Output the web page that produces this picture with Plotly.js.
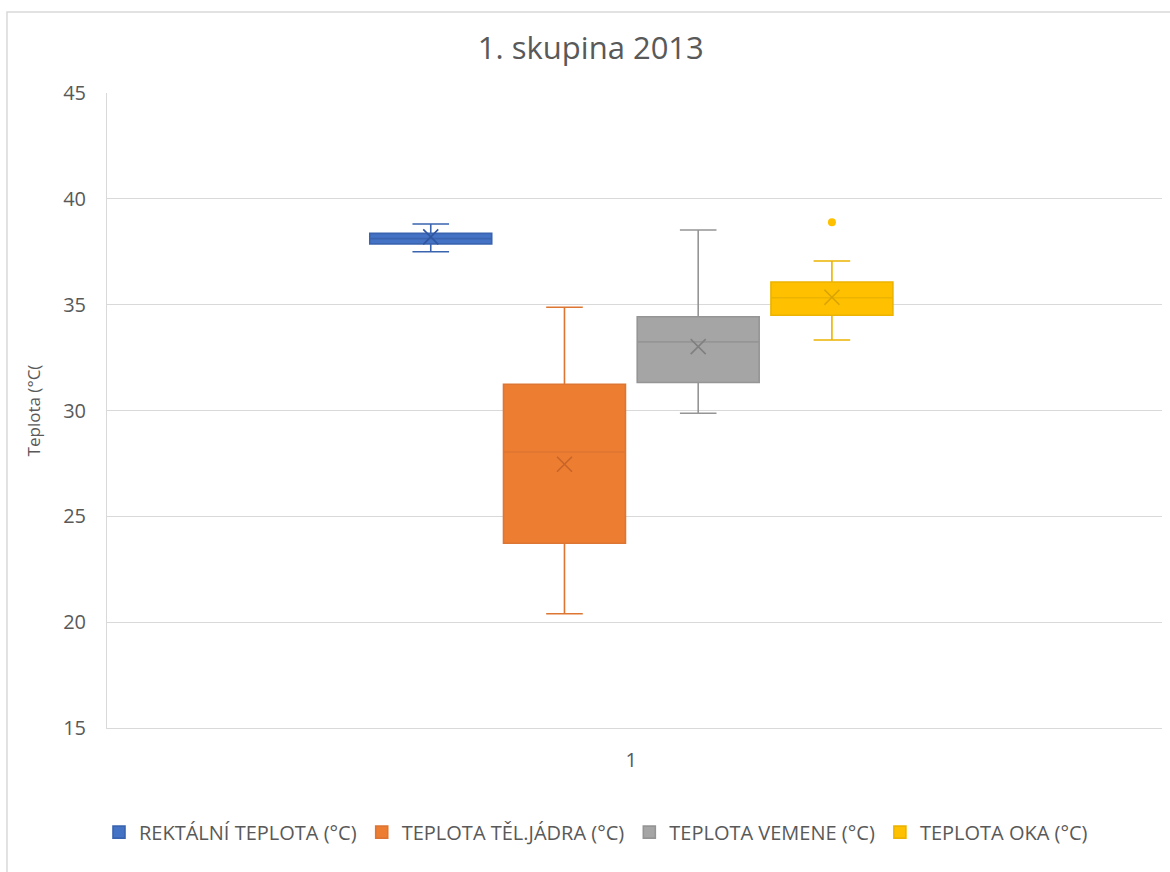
<!DOCTYPE html>
<html>
<head>
<meta charset="utf-8">
<script src="https://cdn.plot.ly/plotly-3.0.1.min.js"></script>
<style>html,body{margin:0;padding:0;background:#fff;}#chart{width:1170px;height:872px;}</style>
</head>
<body>
<div id="chart"></div>
<script>
var category = ['1'];
var seriesNames = ['REKTÁLNÍ TEPLOTA (°C)', 'TEPLOTA TĚL.JÁDRA (°C)', 'TEPLOTA VEMENE (°C)', 'TEPLOTA OKA (°C)'];
var lowerWhisker = [37.5, 20.4, 29.87, 33.33];
var q1Values = [37.87, 23.73, 31.32, 34.5];
var medianValues = [38.12, 28.04, 33.24, 35.33];
var q3Values = [38.37, 31.24, 34.43, 36.07];
var upperWhisker = [38.81, 34.88, 38.53, 37.06];
var meanValues = [38.2, 27.46, 33.02, 35.35];
var outlierSeries = [3];
var outlierValues = [38.89];
var yTickValues = [15, 20, 25, 30, 35, 40, 45];

var fillColors = ['#4472C4', '#ED7D31', '#A5A5A5', '#FFC000'];
var lineColors = ['#3A64B0', '#DE7633', '#959595', '#ECB300'];
var markColors = ['#2F56A0', '#C86528', '#808080', '#D9A300'];
var groups = ['a', 'b', 'c', 'd'];

var traces = [];
for (var i = 0; i < seriesNames.length; i++) {
  traces.push({
    type: 'box',
    name: seriesNames[i],
    x: category,
    q1: [q1Values[i]],
    median: [medianValues[i]],
    q3: [q3Values[i]],
    lowerfence: [lowerWhisker[i]],
    upperfence: [upperWhisker[i]],
    fillcolor: fillColors[i],
    line: {color: lineColors[i], width: 1.6},
    whiskerwidth: 0.3,
    offsetgroup: groups[i],
    boxpoints: false,
    hoverinfo: 'skip'
  });
}
for (var j = 0; j < seriesNames.length; j++) {
  traces.push({
    type: 'scatter',
    mode: 'markers',
    x: category,
    y: [meanValues[j]],
    offsetgroup: groups[j],
    showlegend: false,
    marker: {symbol: 'x-thin-open', size: 15, line: {color: markColors[j], width: 1.6}, color: markColors[j]},
    hoverinfo: 'skip'
  });
}
for (var k = 0; k < outlierSeries.length; k++) {
  var s = outlierSeries[k];
  traces.push({
    type: 'scatter',
    mode: 'markers',
    x: category,
    y: [outlierValues[k]],
    offsetgroup: groups[s],
    showlegend: false,
    marker: {symbol: 'circle', size: 8, color: fillColors[s]},
    hoverinfo: 'skip'
  });
}

var font = 'Open Sans, Noto Sans, sans-serif';
var layout = {
  width: 1170, height: 872,
  margin: {l: 107, r: 8, t: 93, b: 144},
  paper_bgcolor: '#ffffff', plot_bgcolor: '#ffffff',
  font: {family: font, color: '#595959'},
  title: {text: '1. skupina 2013', font: {size: 31, color: '#595959', family: font}, x: 0.505, xref: 'container', xanchor: 'center', y: 0.945, yref: 'container', yanchor: 'middle'},
  boxmode: 'group', boxgap: 0.493, boxgroupgap: 0.088,
  scattermode: 'group', scattergap: 0.493,
  xaxis: {type: 'category', range: [-0.497, 0.503], showgrid: false, showline: true, linecolor: '#D9D9D9', linewidth: 1, ticks: '', ticklabelstandoff: 14, tickfont: {size: 20, color: '#595959'}, zeroline: false},
  yaxis: {range: [15, 45], tickvals: yTickValues, showgrid: true, gridcolor: '#D9D9D9', gridwidth: 1, showline: true, linecolor: '#D9D9D9', zeroline: false, ticks: '', ticklabelstandoff: 16, tickfont: {size: 20, color: '#595959'},
    title: {text: 'Teplota (°C(', font: {size: 17, color: '#595959'}, standoff: 18}},
  showlegend: true,
  legend: {orientation: 'h', x: 0.4635, xanchor: 'center', y: -0.164, yanchor: 'middle', font: {size: 20, color: '#595959'}, itemwidth: 30, traceorder: 'normal'},
  shapes: [{type: 'rect', xref: 'paper', yref: 'paper', x0: -0.0948, x1: 1.02, y0: -0.25, y1: 1.1276, line: {color: '#D9D9D9', width: 1.5}, fillcolor: 'rgba(0,0,0,0)', layer: 'below'}]
};
Plotly.newPlot('chart', traces, layout, {displayModeBar: false, staticPlot: true});
</script>
</body>
</html>
